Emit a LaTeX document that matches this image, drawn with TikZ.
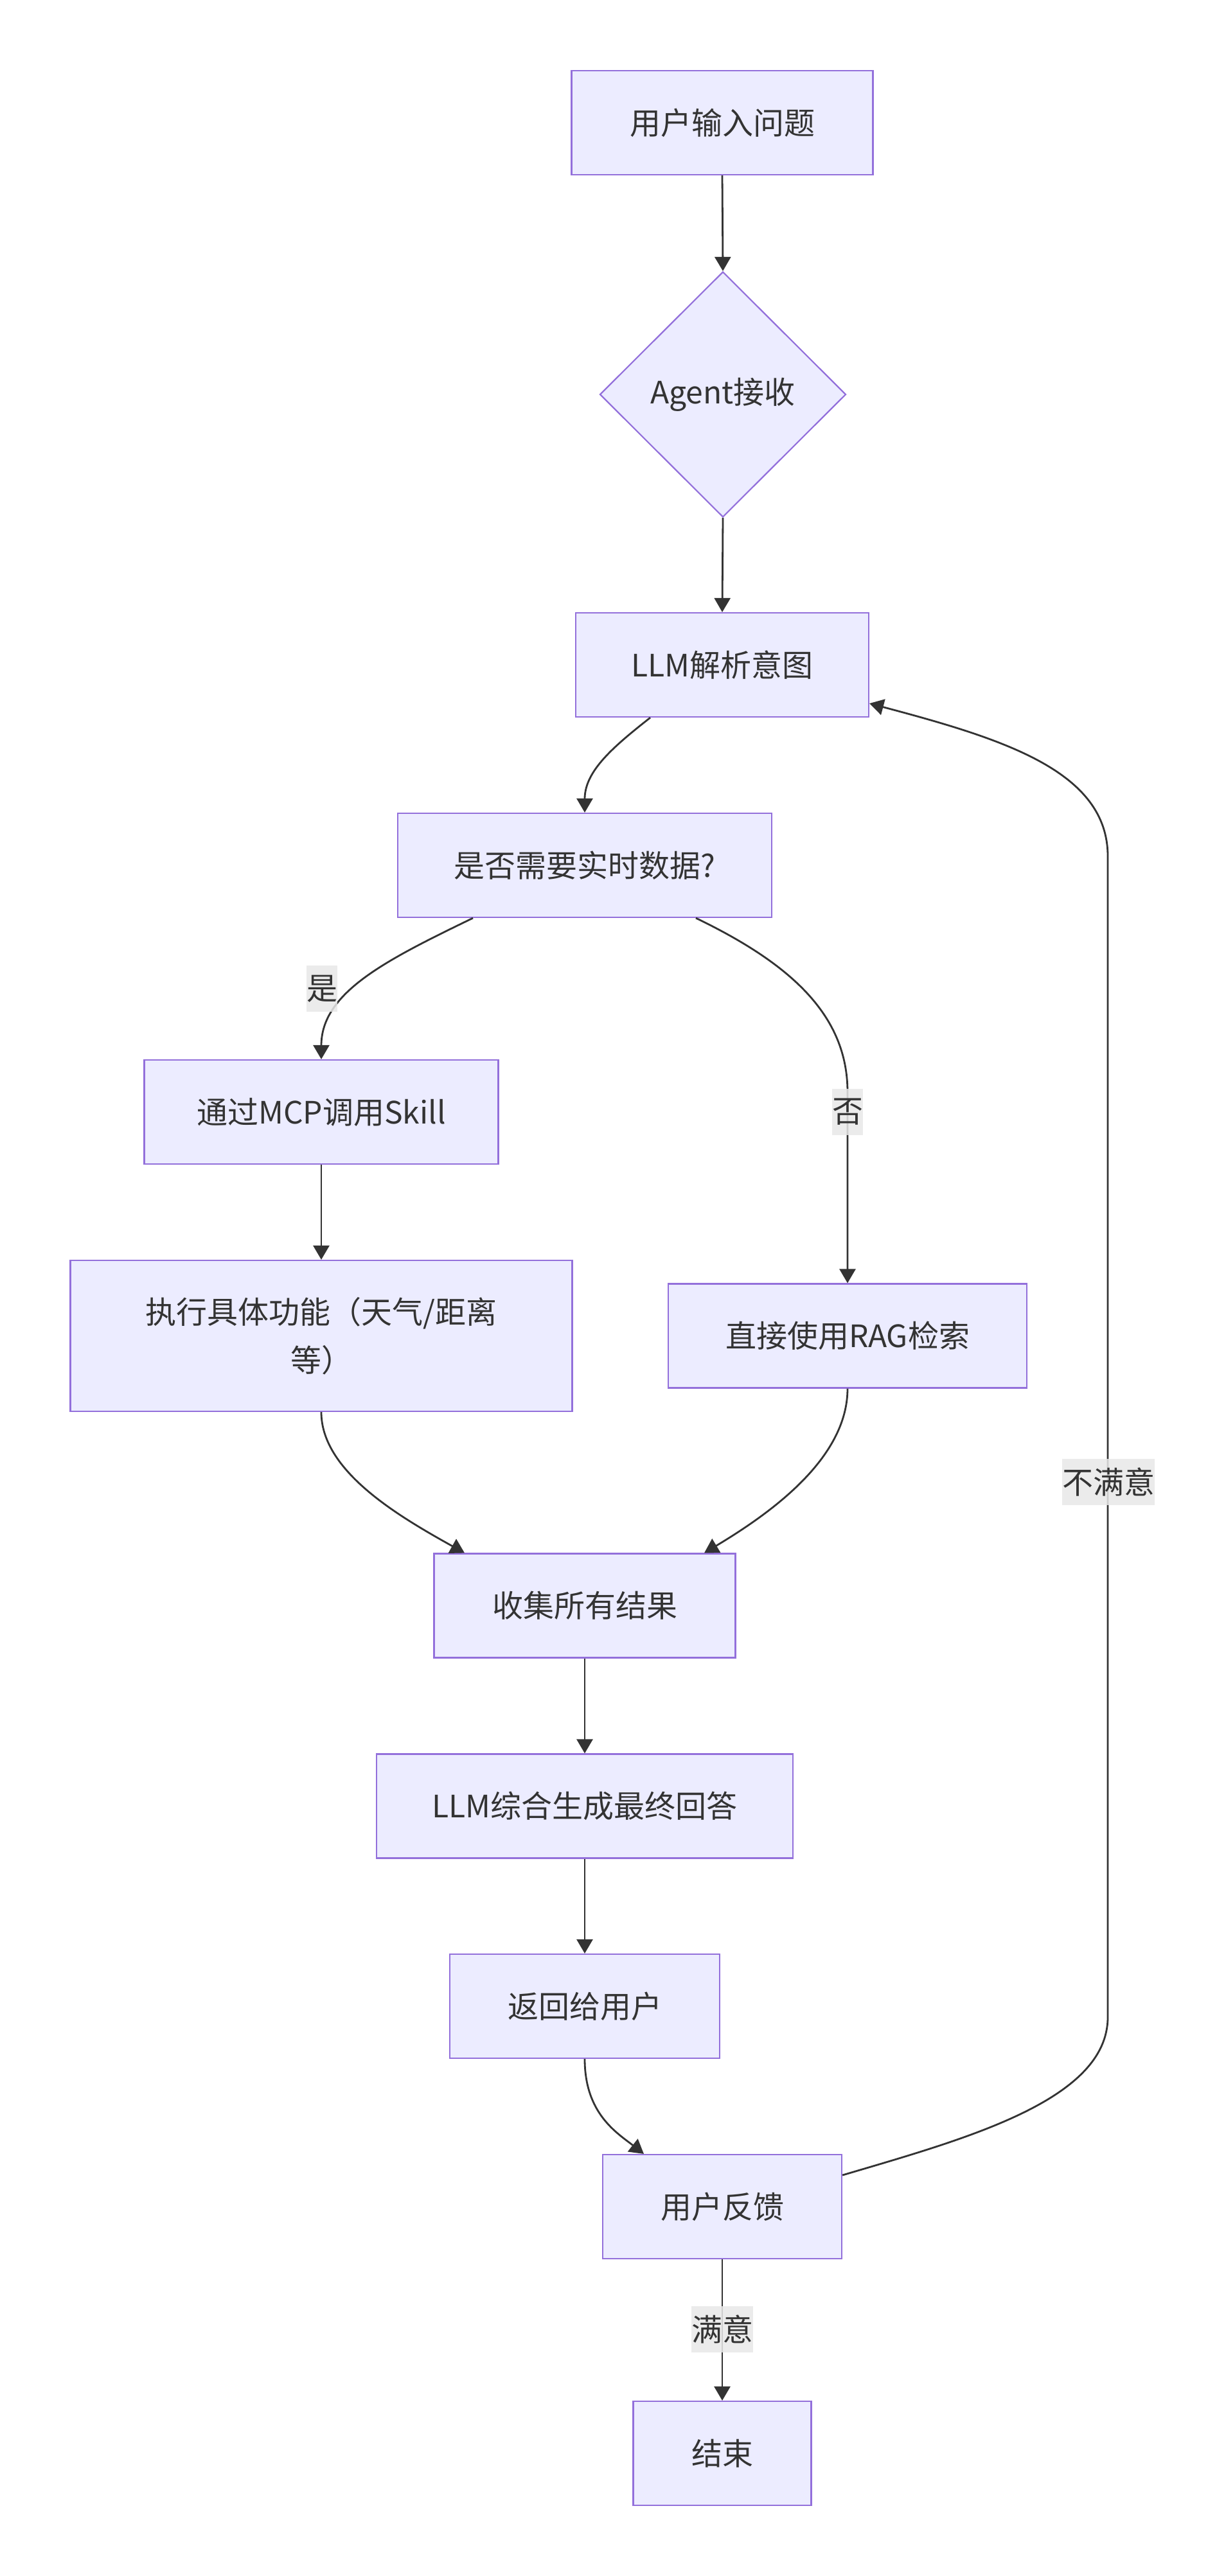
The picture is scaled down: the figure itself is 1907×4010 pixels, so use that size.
\documentclass[tikz,border=0pt]{standalone}
\usepackage{fontspec}
\setmainfont{Noto Sans CJK SC}
\usetikzlibrary{shapes.geometric,arrows.meta,calc}
\definecolor{nodefill}{HTML}{ECECFF}
\definecolor{nodeborder}{HTML}{9370DB}
\definecolor{ink}{HTML}{333333}
\definecolor{lblbg}{HTML}{E8E8E8}
\begin{document}
\begin{tikzpicture}[x=0.5pt,y=-0.5pt,
  box/.style={rectangle, draw=nodeborder, fill=nodefill, line width=1.1pt, text=ink,
    font=\fontsize{24}{37.5}\selectfont, inner sep=0pt, minimum height=81pt, align=center},
  dia/.style={diamond, draw=nodeborder, fill=nodefill, line width=1.1pt, text=ink,
    font=\fontsize{24}{37.5}\selectfont, inner sep=0pt, minimum width=191.5pt, minimum height=191pt},
  link/.style={draw=ink, line width=1.4pt, -{Triangle[length=11pt,width=12.5pt]}},
  lbl/.style={fill=lblbg, fill opacity=0.85, text opacity=1, text=ink,
    font=\fontsize{24}{30}\selectfont, inner sep=0pt, minimum height=36pt}
]
\useasboundingbox (0,0) rectangle (1907,4010);
\fill[white] (0,0) rectangle (1907,4010);

\node[box, minimum width=234.5pt] (start) at (1124,191) {用户输入问题};
\node[dia] (agent) at (1125,614) {Agent接收};
\node[box, minimum width=228pt] (llm) at (1124,1035) {LLM解析意图};
\node[box, minimum width=291pt] (need) at (910,1347) {是否需要实时数据?};
\node[box, minimum width=275.5pt] (mcp) at (500,1731) {通过MCP调用Skill};
\node[box, minimum width=390.5pt, minimum height=117.5pt] (exec) at (500,2079.5) {执行具体功能（天气/距离\\等）};
\node[box, minimum width=279pt] (rag) at (1319,2079.5) {直接使用RAG检索};
\node[box, minimum width=234.5pt] (collect) at (910,2499.5) {收集所有结果};
\node[box, minimum width=324pt] (synth) at (910,2811.5) {LLM综合生成最终回答};
\node[box, minimum width=210pt] (ret) at (910,3123) {返回给用户};
\node[box, minimum width=186pt] (fb) at (1124,3435) {用户反馈};
\node[box, minimum width=138.5pt] (fin) at (1124,3819) {结束};

\draw[link] (start.south) -- (agent.north);
\draw[link] (agent.south) -- (llm.north);
\draw[link] ([xshift=-56pt]llm.south) .. controls (955,1162) and (910,1200) .. (need.north);
\draw[link] ([xshift=-87pt]need.south) .. controls (600,1495) and (500,1545) .. (mcp.north);
\draw[link] ([xshift=86.5pt]need.south) .. controls (1230,1500) and (1319,1580) .. (1319,1700) -- (rag.north);
\draw[link] (mcp.south) -- (exec.north);
\draw[link] (exec.south) .. controls (500,2290) and (620,2360) .. ([xshift=-93.5pt]collect.north);
\draw[link] (rag.south) .. controls (1319,2270) and (1200,2355) .. ([xshift=93pt]collect.north);
\draw[link] (collect) -- (synth);
\draw[link] (synth) -- (ret);
\draw[link] (ret.south) .. controls (910,3290) and (960,3320) .. ([xshift=-61pt]fb.north);
\draw[link] ([yshift=24.5pt]fb.east) .. controls (1500,3330) and (1724,3270) .. (1724,3140) -- (1724,1333) .. controls (1724,1200) and (1560,1150) .. ([yshift=-30pt]llm.east);
\draw[link] (fb) -- (fin);

\node[lbl, minimum width=24pt] (lyes) at (501,1539) {是};
\node[lbl, minimum width=24pt] (lno) at (1319,1731) {否};
\node[lbl, minimum width=72pt] (lbad) at (1725,2307) {不满意};
\node[lbl, minimum width=48pt] (lok) at (1124,3626) {满意};
\end{tikzpicture}
\end{document}
